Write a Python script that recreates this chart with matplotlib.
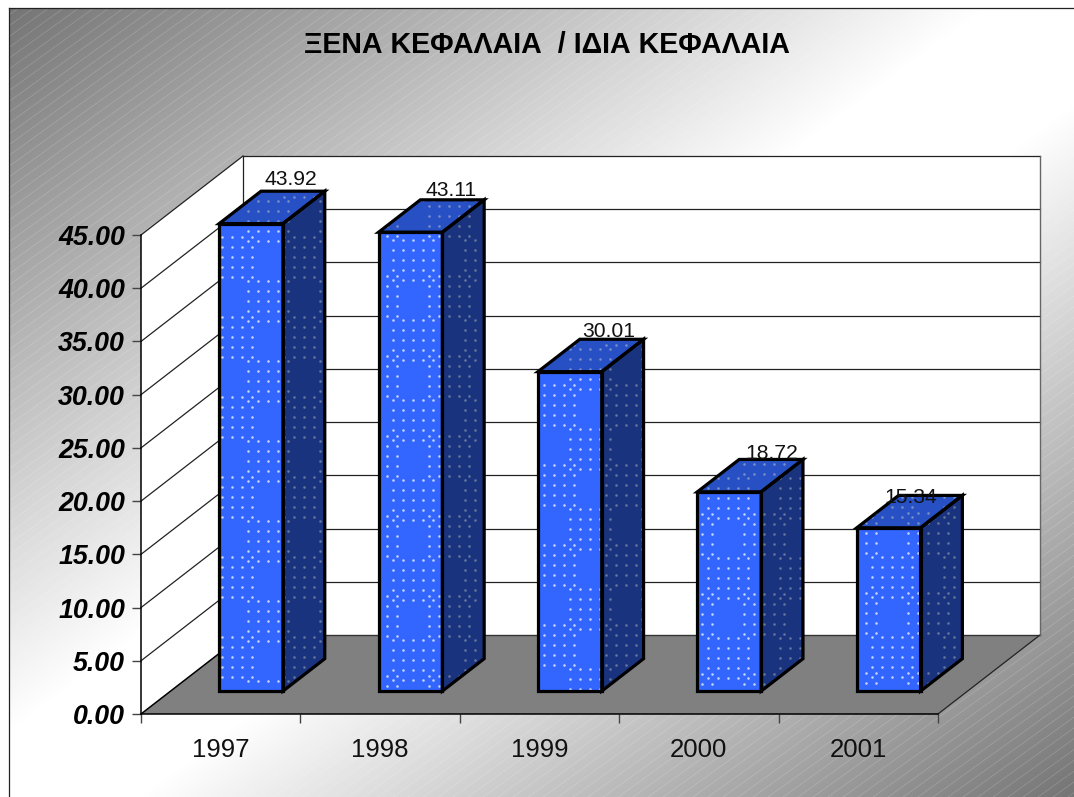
import matplotlib
matplotlib.use('Agg')
import matplotlib.pyplot as plt
import numpy as np
from matplotlib.collections import LineCollection
from matplotlib.patches import Polygon

# chart values
years = ['1997', '1998', '1999', '2000', '2001']
values = [43.92, 43.11, 30.01, 18.72, 15.34]
value_labels = ['43.92', '43.11', '30.01', '18.72', '15.34']
label_dx = [-34, -33, -35, -31, -52]
label_dy = [12, 9, 8, 6, -2]
pattern_dx = [-7, -22, -4, -25, -21]
pattern_dy = [13, 44, 13, 22, 65]
y_ticks = [0, 5, 10, 15, 20, 25, 30, 35, 40, 45]
y_labels = ['0.00', '5.00', '10.00', '15.00', '20.00', '25.00', '30.00', '35.00', '40.00', '45.00']

W, H = 1074, 797
plt.rcParams['font.family'] = ['Liberation Sans', 'DejaVu Sans']

fig = plt.figure(figsize=(W / 100, H / 100), dpi=100, facecolor='white')

# background gradient + thin diagonal stripes, in pixel coords
bg = fig.add_axes([0, 0, 1, 1])
bg.set_xlim(0, W)
bg.set_ylim(H, 0)
bg.axis('off')
xx, yy = np.meshgrid(np.linspace(0, 1, 400), np.linspace(0, 1, 400))
u = (xx + yy) / 2
shade = 0.46 + 0.54 * np.minimum(np.minimum(u / 0.46, 1), (1 - u) / 0.44)
bg.imshow(shade, cmap='gray', vmin=0, vmax=1, extent=(9, W, H, 8), aspect='auto', zorder=0)
segs = []
for c in np.arange(0, W + H / 0.72 + 50, 15):
    segs.append([(-100, 0.72 * (c + 100)), (W + 100, 0.72 * (c - W - 100))])
stripes = LineCollection(segs, colors='white', linewidths=0.5, alpha=0.2, zorder=1)
bg.add_collection(stripes)
stripes.set_clip_path(Polygon([(9, 8), (W, 8), (W, H), (9, H)], transform=bg.transData))
bg.plot([9, 9], [H, 8], color='#222222', lw=0.9, zorder=2)
bg.plot([9, W], [8, 8], color='#222222', lw=0.9, zorder=2)

bg.text(547, 45, 'ΞΕΝΑ ΚΕΦΑΛΑΙΑ  / ΙΔΙΑ ΚΕΦΑΛΑΙΑ', fontsize=20.6, fontweight='bold',
        ha='center', va='center', color='black', zorder=3)

# main axes is the front plane of the 3d box
ax = fig.add_axes([141 / W, 1 - 714 / H, 797 / W, 479 / H])
ax.patch.set_alpha(0)
ax.set_xlim(-0.5, 4.5)
ax.set_ylim(0, 45)
for s in ['top', 'right']:
    ax.spines[s].set_visible(False)
ax.spines['left'].set_linewidth(1.1)
ax.spines['bottom'].set_linewidth(1.1)

px_x = 5 / 797        # one pixel in category units
px_y = 45 / 479       # one pixel in value units
depth_x = 102 * px_x  # full depth of the box
depth_y = 79 * px_y
bar_w = 0.4
bar_shift = 0.8 * px_x
d_front, d_back = 0.29, 0.70


def proj(x, v, d):
    return x + d * depth_x, v + d * depth_y


def face(points, color, lw=0.0, ec='none', z=2):
    p = Polygon(points, closed=True, facecolor=color, edgecolor=ec, linewidth=lw,
                joinstyle='miter', clip_on=False, zorder=z)
    ax.add_patch(p)
    return p


# walls and floor
face([proj(-0.5, 0, 0), proj(-0.5, 45, 0), proj(-0.5, 45, 1), proj(-0.5, 0, 1)], 'white', z=1)
face([proj(-0.5, 0, 1), proj(-0.5, 45, 1), proj(4.5, 45, 1), proj(4.5, 0, 1)], 'white', z=1)
face([proj(-0.5, 0, 0), proj(4.5, 0, 0), proj(4.5, 0, 1), proj(-0.5, 0, 1)], '#808080', z=1)


def wall_line(a, b, color='#222222', lw=0.9):
    ax.plot([a[0], b[0]], [a[1], b[1]], color=color, lw=lw, clip_on=False, zorder=1.5)


for t in y_ticks[1:]:
    wall_line(proj(-0.5, t, 0), proj(-0.5, t, 1))
    wall_line(proj(-0.5, t, 1), proj(4.5, t, 1))
wall_line(proj(-0.5, 0, 0), proj(-0.5, 0, 1), 'black', 1.1)
wall_line(proj(-0.5, 0, 1), proj(4.5, 0, 1), '#333333', 1.0)
wall_line(proj(4.5, 0, 0), proj(4.5, 0, 1), '#222222', 0.9)
wall_line(proj(4.5, 0, 1), proj(4.5, 45, 1), '#666666', 1.0)
wall_line(proj(-0.5, 0, 1), proj(-0.5, 45, 1), '#222222', 0.9)


def dots(poly, color, ax0, ay0):
    # screen aligned dot pattern: two 5x5 blocks repeated, clipped to the face
    arr = np.array(poly)
    xs, ys = [], []
    for kx in range(-2, 5):
        for ky in range(-8, 9):
            ox = ax0 + kx * 72 * px_x
            oy = ay0 - ky * 80 * px_y
            for c in range(5):
                for r in range(5):
                    xs.append(ox + c * 10 * px_x)
                    ys.append(oy - r * 10 * px_y)
                    xs.append(ox + (36 + c * 10) * px_x)
                    ys.append(oy - (44 + r * 10) * px_y)
    xs, ys = np.array(xs), np.array(ys)
    keep = (xs > arr[:, 0].min()) & (xs < arr[:, 0].max()) & (ys > arr[:, 1].min()) & (ys < arr[:, 1].max())
    sc = ax.scatter(xs[keep], ys[keep], s=3.4, color=color, linewidths=0, clip_on=True, zorder=3)
    sc.set_clip_path(Polygon(poly, closed=True, transform=ax.transData))


for i, v in enumerate(values):
    l, r = i - bar_w / 2 + bar_shift, i + bar_w / 2 + bar_shift
    front = [proj(l, 0, d_front), proj(r, 0, d_front), proj(r, v, d_front), proj(l, v, d_front)]
    side = [proj(r, 0, d_front), proj(r, 0, d_back), proj(r, v, d_back), proj(r, v, d_front)]
    top = [proj(l, v, d_front), proj(r, v, d_front), proj(r, v, d_back), proj(l, v, d_back)]
    face(front, '#3366ff')
    face(side, '#1a337f')
    face(top, '#2650c4')
    ax0 = front[0][0] + pattern_dx[i] * px_x
    ay0 = front[2][1] - pattern_dy[i] * px_y
    dots(front, '#c4d4ff', ax0, ay0)
    dots(side, '#66769a', ax0, ay0)
    dots(top, '#7a8ec8', ax0, ay0)
    for poly in (front, side, top):
        face(poly, 'none', lw=2.3, ec='black', z=4)
    ax.annotate(value_labels[i], proj(r, v, d_back),
                xytext=(label_dx[i] * 0.72, label_dy[i] * 0.72), textcoords='offset points',
                fontsize=15.2, ha='center', va='center', color='#111111', zorder=5,
                annotation_clip=False)

# real axes ticks and labels
ax.set_yticks(y_ticks)
ax.set_yticklabels(y_labels, fontsize=19.3, fontweight='bold', fontstyle='italic')
ax.tick_params(axis='y', length=6.5, width=1.0, color='#444444', pad=5)
ax.set_xticks(range(len(years)))
ax.set_xticklabels(years, fontsize=18.5, color='#111111')
ax.tick_params(axis='x', which='major', length=0, pad=17)
ax.set_xticks(np.arange(-0.5, 5), minor=True)
ax.tick_params(axis='x', which='minor', length=6.5, width=1.0, color='#444444')

fig.savefig('out.png', dpi=100)
